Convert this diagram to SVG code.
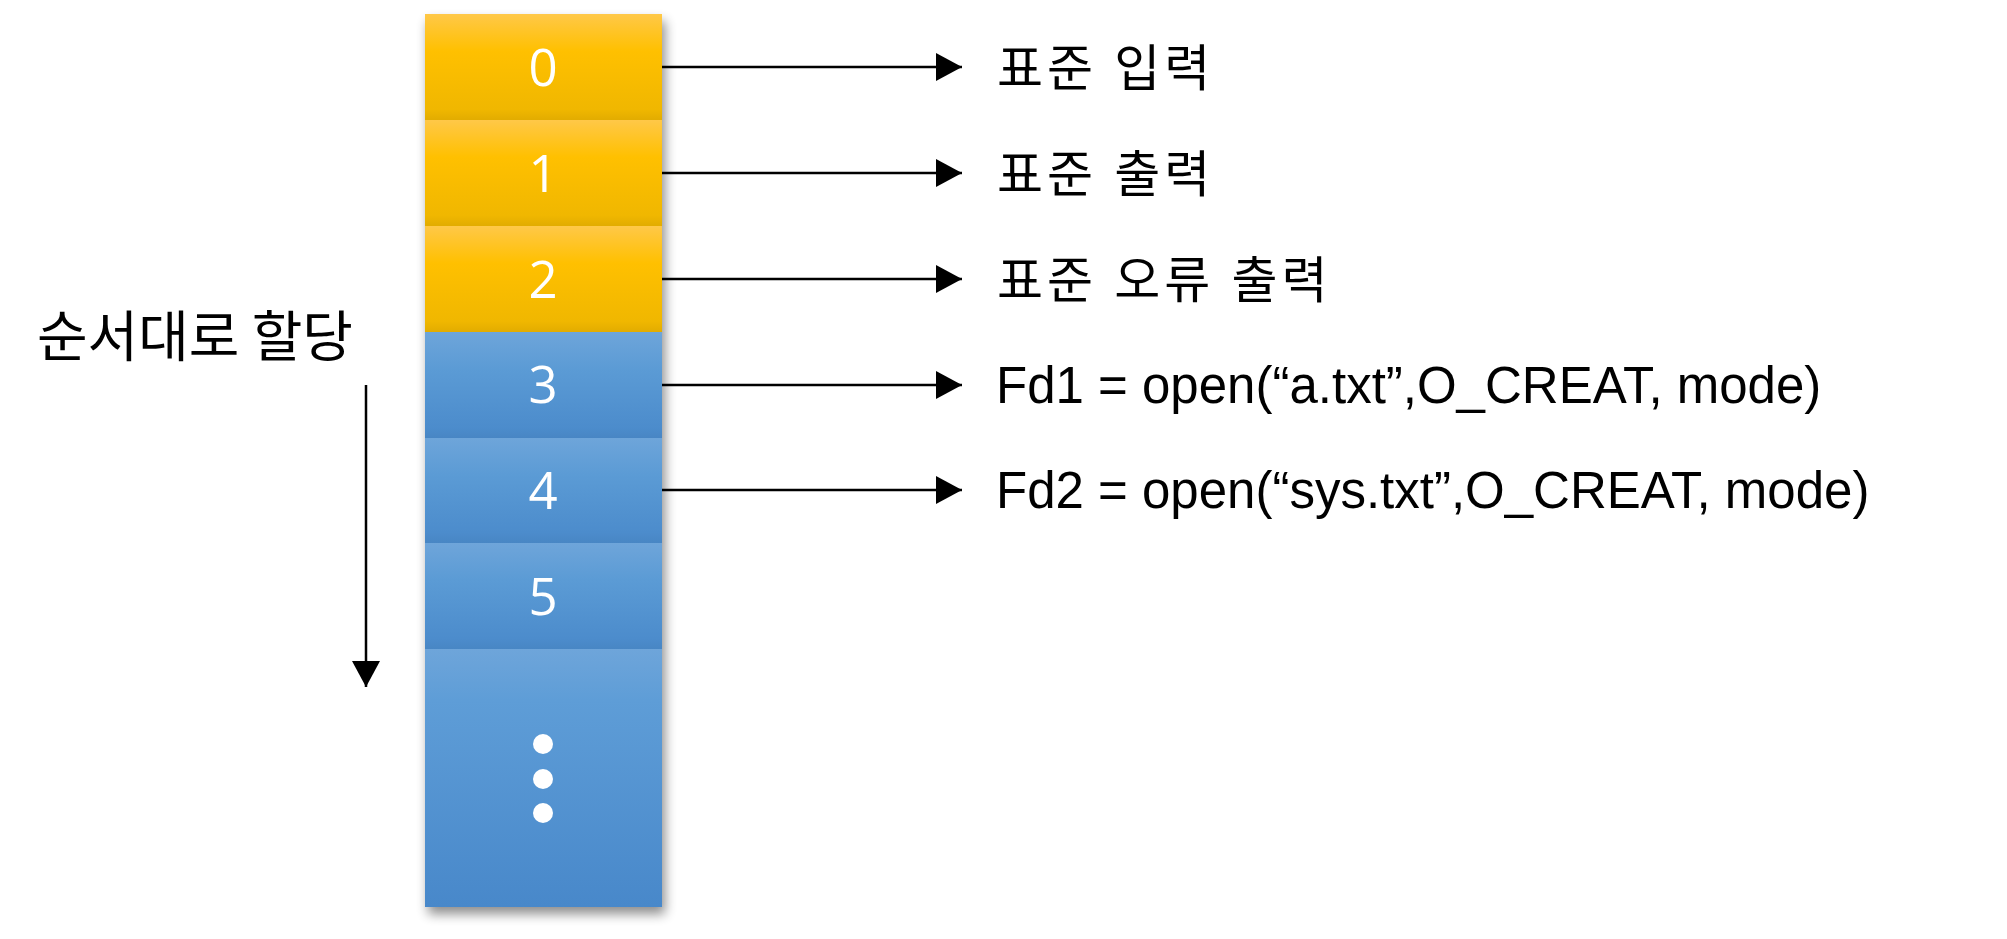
<svg xmlns="http://www.w3.org/2000/svg" width="2007" height="939" viewBox="0 0 2007 939">
<style>
.digit{font-family:"Open Sans","Noto Sans",sans-serif;font-size:51px;fill:#ffffff;text-anchor:middle}
.ko{font-family:"Noto Sans CJK KR","Noto Sans",sans-serif;font-size:50px;fill:#000000;letter-spacing:4px;word-spacing:2px}
.code{font-family:"Liberation Sans",Arial,sans-serif;font-size:51px;fill:#000000}
.conn{stroke:#000000;stroke-width:2.5;fill:none}
</style>
<defs>
<linearGradient id="gOr" x1="0" y1="0" x2="0" y2="1">
<stop offset="0" stop-color="#FFC848"/>
<stop offset="0.35" stop-color="#FFC000"/>
<stop offset="0.9" stop-color="#F0B700"/>
<stop offset="1" stop-color="#E2AC00"/>
</linearGradient>
<linearGradient id="gBl" x1="0" y1="0" x2="0" y2="1">
<stop offset="0" stop-color="#6EA5DA"/>
<stop offset="0.35" stop-color="#5B9BD5"/>
<stop offset="0.9" stop-color="#4C8CCC"/>
<stop offset="1" stop-color="#4886C4"/>
</linearGradient>
<linearGradient id="gBlL" x1="0" y1="0" x2="0" y2="1">
<stop offset="0" stop-color="#6EA5DA"/>
<stop offset="0.2" stop-color="#5E9DD7"/>
<stop offset="1" stop-color="#4888CA"/>
</linearGradient>
<filter id="shadow" x="-20%" y="-10%" width="140%" height="120%">
<feGaussianBlur in="SourceAlpha" stdDeviation="6"/>
<feOffset dx="3" dy="7" result="b"/>
<feComponentTransfer><feFuncA type="linear" slope="0.45"/></feComponentTransfer>
<feMerge><feMergeNode/><feMergeNode in="SourceGraphic"/></feMerge>
</filter>
<marker id="arr" viewBox="0 0 26 28" refX="26" refY="14" markerWidth="26" markerHeight="28" markerUnits="userSpaceOnUse" orient="auto">
<path d="M0,0 L26,14 L0,28 Z" fill="#000000"/>
</marker>
</defs>
<rect x="0" y="0" width="2007" height="939" fill="#ffffff"/>
<g id="column" filter="url(#shadow)">
<rect x="425" y="14" width="237" height="893" fill="#5B9BD5"/>
</g>
<g id="cell0"><rect x="425" y="14" width="237" height="106" fill="url(#gOr)"/><text class="digit" x="543" y="86">0</text></g>
<g id="cell1"><rect x="425" y="120" width="237" height="106" fill="url(#gOr)"/><text class="digit" x="543" y="192">1</text></g>
<g id="cell2"><rect x="425" y="226" width="237" height="106" fill="url(#gOr)"/><text class="digit" x="543" y="298">2</text></g>
<g id="cell3"><rect x="425" y="332" width="237" height="106" fill="url(#gBl)"/><text class="digit" x="543" y="403">3</text></g>
<g id="cell4"><rect x="425" y="438" width="237" height="105" fill="url(#gBl)"/><text class="digit" x="543" y="509">4</text></g>
<g id="cell5"><rect x="425" y="543" width="237" height="106" fill="url(#gBl)"/><text class="digit" x="543" y="615">5</text></g>
<g id="cellRest"><rect x="425" y="649" width="237" height="258" fill="url(#gBlL)"/>
<circle cx="543" cy="744" r="10" fill="#ffffff"/>
<circle cx="543" cy="779" r="10" fill="#ffffff"/>
<circle cx="543" cy="813" r="10" fill="#ffffff"/>
</g>
<g id="connectors">
<line class="conn" x1="662" y1="67" x2="962" y2="67" marker-end="url(#arr)"/>
<line class="conn" x1="662" y1="173" x2="962" y2="173" marker-end="url(#arr)"/>
<line class="conn" x1="662" y1="279" x2="962" y2="279" marker-end="url(#arr)"/>
<line class="conn" x1="662" y1="385" x2="962" y2="385" marker-end="url(#arr)"/>
<line class="conn" x1="662" y1="490" x2="962" y2="490" marker-end="url(#arr)"/>
<line class="conn" x1="366" y1="385" x2="366" y2="687" marker-end="url(#arr)"/>
</g>
<g id="label0"><text class="ko" x="997" y="86">표준 입력</text></g>
<g id="label1"><text class="ko" x="997" y="192">표준 출력</text></g>
<g id="label2"><text class="ko" x="997" y="298">표준 오류 출력</text></g>
<g id="label3"><text class="code" x="996" y="403">Fd1 = open(“a.txt”,O_CREAT, mode)</text></g>
<g id="label4"><text class="code" x="996" y="508">Fd2 = open(“sys.txt”,O_CREAT, mode)</text></g>
<g id="orderLabel"><text class="ko" x="37" y="356" style="font-size:55px;letter-spacing:0;word-spacing:0">순서대로 할당</text></g>
</svg>
